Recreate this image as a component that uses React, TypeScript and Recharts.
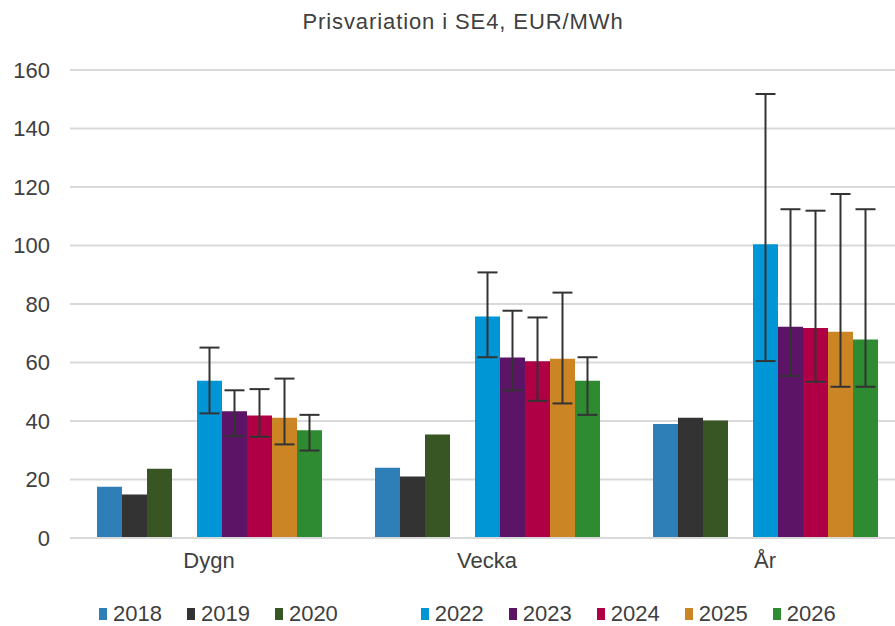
import { Bar, BarChart, CartesianGrid, ErrorBar, XAxis, YAxis } from 'recharts';

const categories = ['Dygn', 'Vecka', 'År'];

const years = ['2018', '2019', '2020', '2021', '2022', '2023', '2024', '2025', '2026'];
const colors = ['#2E7EB8', '#333333', '#375623', '#ffffff', '#0096D6', '#5C1466', '#B00045', '#CC8525', '#2E8B32'];

const v2018 = [17.5, 24.0, 39.0];
const v2019 = [14.9, 21.0, 41.1];
const v2020 = [23.7, 35.4, 40.2];
const v2021 = [null, null, null];
const v2022 = [53.8, 75.7, 100.4];
const v2023 = [43.3, 61.7, 72.2];
const v2024 = [41.9, 60.4, 71.8];
const v2025 = [41.1, 61.3, 70.5];
const v2026 = [36.8, 53.8, 67.9];

// lower / upper end of the whiskers
const low2022 = [42.6, 61.8, 60.5];
const high2022 = [65.1, 90.8, 151.8];
const low2023 = [34.8, 50.5, 55.4];
const high2023 = [50.5, 77.7, 112.4];
const low2024 = [34.6, 46.9, 53.4];
const high2024 = [50.9, 75.4, 111.9];
const low2025 = [32.0, 46.0, 51.7];
const high2025 = [54.5, 83.9, 117.6];
const low2026 = [29.9, 42.1, 51.7];
const high2026 = [42.1, 61.8, 112.4];

const yTicks = [0, 20, 40, 60, 80, 100, 120, 140, 160];

const values: Record<string, (number | null)[]> = {
  '2018': v2018,
  '2019': v2019,
  '2020': v2020,
  '2021': v2021,
  '2022': v2022,
  '2023': v2023,
  '2024': v2024,
  '2025': v2025,
  '2026': v2026,
};

const ranges: Record<string, [number[], number[]]> = {
  '2022': [low2022, high2022],
  '2023': [low2023, high2023],
  '2024': [low2024, high2024],
  '2025': [low2025, high2025],
  '2026': [low2026, high2026],
};

const data = categories.map((name, i) => {
  const row: Record<string, any> = { name };
  years.forEach((y) => {
    row[y] = values[y][i];
    const r = ranges[y];
    if (r) {
      const v = values[y][i] as number;
      row['err' + y] = [v - r[0][i], r[1][i] - v];
    }
  });
  return row;
});

const textColor = '#404040';
const font = '"Liberation Sans", Arial, sans-serif';

export default function App() {
  return (
    <div
      style={{
        position: 'absolute',
        left: 0,
        top: 0,
        width: 895,
        height: 626,
        overflow: 'hidden',
        background: '#fff',
        fontFamily: font,
      }}
    >
      <div
        style={{
          position: 'absolute',
          top: 9,
          left: 0,
          width: 926,
          textAlign: 'center',
          fontSize: 22,
          letterSpacing: 0.9,
          color: textColor,
        }}
      >
        Prisvariation i SE4, EUR/MWh
      </div>
      <BarChart
        width={905}
        height={626}
        data={data}
        margin={{ top: 70, right: 1, bottom: 58, left: 10 }}
        barCategoryGap={27}
        barGap={0}
      >
        <CartesianGrid vertical={false} stroke="#d9d9d9" strokeWidth={2} />
        <XAxis
          dataKey="name"
          tickLine={false}
          tickSize={0}
          tickMargin={14}
          height={30}
          axisLine={{ stroke: '#d9d9d9', strokeWidth: 2 }}
          tick={{ fill: textColor, fontSize: 22, fontFamily: font }}
        />
        <YAxis
          width={60}
          domain={[0, 160]}
          ticks={yTicks}
          interval={0}
          tickLine={false}
          tickSize={0}
          tickMargin={20}
          axisLine={false}
          tick={{ fill: textColor, fontSize: 22, fontFamily: font }}
        />
        {years.map((y, i) => (
          <Bar key={y} dataKey={y} fill={colors[i]} isAnimationActive={false}>
            {ranges[y] && (
              <ErrorBar dataKey={'err' + y} width={10} strokeWidth={2} stroke="#333333" direction="y" />
            )}
          </Bar>
        ))}
      </BarChart>
      <div
        style={{
          position: 'absolute',
          top: 603,
          left: 99,
          display: 'flex',
          alignItems: 'center',
          gap: 25,
          fontSize: 22,
          color: textColor,
          lineHeight: '22px',
        }}
      >
        {years.map((y, i) =>
          y === '2021' ? (
            <div key={y} style={{ width: 33 }} />
          ) : (
            <div key={y} style={{ display: 'flex', alignItems: 'center' }}>
              <span style={{ width: 8, height: 12, background: colors[i], marginRight: 6, display: 'inline-block' }} />
              <span>{y}</span>
            </div>
          )
        )}
      </div>
    </div>
  );
}
